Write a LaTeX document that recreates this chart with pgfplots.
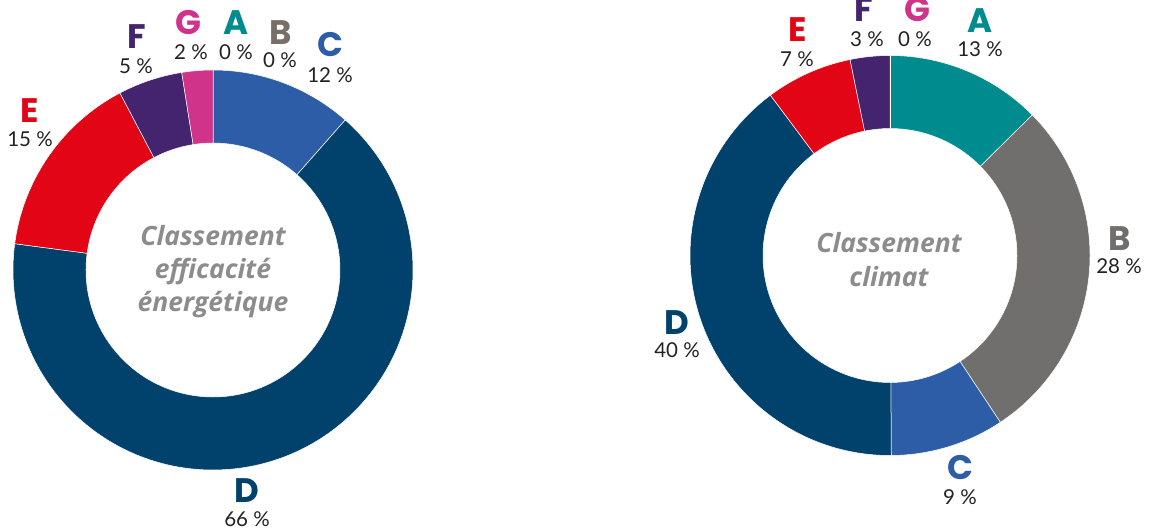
\documentclass[border=0pt]{standalone}
\usepackage{pgfplots}
\pgfplotsset{compat=1.18}
\usepackage{fontspec}
\setmainfont{Lato}
\newfontfamily\letterfont{Poppins}
\newfontfamily\centerfont{Open Sans}
\definecolor{colA}{HTML}{008C8F}
\definecolor{colB}{HTML}{706F6E}
\definecolor{colBl}{HTML}{7A6E69}
\definecolor{colC}{HTML}{2D5DA7}
\definecolor{colD}{HTML}{00426B}
\definecolor{colE}{HTML}{E10516}
\definecolor{colF}{HTML}{44236F}
\definecolor{colG}{HTML}{D0338A}
\definecolor{txt}{HTML}{222222}
\definecolor{ctr}{HTML}{8C8C8C}
% segment values (percent), clockwise from 12 o'clock: A,B,C,D,E,F,G
\def\leftdata{0/colA,0/colB,11.5/colC,65.6/colD,15.2/colE,5.2/colF,2.5/colG}
\def\rightdata{12.6/colA,28.1/colB,9.2/colC,39.9/colD,7.0/colE,3.2/colF,0/colG}
\newcommand\donut[3]{%
  \xdef\cum{0}%
  \foreach \v/\c in #3 {%
    \pgfmathsetmacro\aa{90-3.6*\cum}%
    \pgfmathsetmacro\bb{90-3.6*(\cum+\v)}%
    \fill[\c, draw=white, line width=0.5pt]
      ([shift={(\aa:200pt)}]axis cs:#1,#2) arc[start angle=\aa, end angle=\bb, radius=200pt]
      -- ([shift={(\bb:127pt)}]axis cs:#1,#2) arc[start angle=\bb, end angle=\aa, radius=127pt] -- cycle;
    \pgfmathsetmacro\nc{\cum+\v}%
    \xdef\cum{\nc}%
  }%
}
\tikzset{
  lab/.style={anchor=base, inner sep=0pt, font=\letterfont\bfseries\fontsize{34}{34}\selectfont},
  pct/.style={anchor=base, inner sep=0pt, text=txt, font=\fontsize{20.5}{20}\selectfont},
  cen/.style={anchor=base, inner sep=0pt, text=ctr, font=\centerfont\bfseries\itshape\fontsize{26.5}{26}\selectfont},
}
\begin{document}
\begin{tikzpicture}
\begin{axis}[scale only axis, width=1150pt, height=532pt,
  xmin=0, xmax=1150, ymin=0, ymax=532, hide axis, clip=false]
\addplot[draw=none] coordinates {(0,0) (1150,532)};
\pgfplotsextra{\donut{213}{262}{\leftdata}\donut{890}{276.5}{\rightdata}}
% left labels
\node[lab, text=colF] at (axis cs:137,483) {F};
\node[pct] at (axis cs:136,458) {5 \%};
\node[lab, text=colG] at (axis cs:188,497) {G};
\node[pct] at (axis cs:191,472) {2 \%};
\node[lab, text=colA] at (axis cs:236,497) {A};
\node[pct] at (axis cs:236,472) {0 \%};
\node[lab, text=colBl] at (axis cs:281,487) {B};
\node[pct] at (axis cs:280,464) {0 \%};
\node[lab, text=colC] at (axis cs:330,475) {C};
\node[pct] at (axis cs:330,449) {12 \%};
\node[lab, text=colE] at (axis cs:30,409) {E};
\node[pct] at (axis cs:30,385) {15 \%};
\node[lab, text=colD] at (axis cs:247,29) {D};
\node[pct] at (axis cs:247,5) {66 \%};
\node[cen] at (axis cs:213,286) {Classement};
\node[cen] at (axis cs:213,253) {efficacité};
\node[cen] at (axis cs:213,220) {énergétique};
% right labels
\node[lab, text=colE] at (axis cs:798,490) {E};
\node[pct] at (axis cs:797,465) {7 \%};
\node[lab, text=colF] at (axis cs:864,510) {F};
\node[pct] at (axis cs:867,485) {3 \%};
\node[lab, text=colG] at (axis cs:917,510) {G};
\node[pct] at (axis cs:915,485) {0 \%};
\node[lab, text=colA] at (axis cs:980,499) {A};
\node[pct] at (axis cs:980,475) {13 \%};
\node[lab, text=colB] at (axis cs:1120,281) {B};
\node[pct] at (axis cs:1119,258) {28 \%};
\node[lab, text=colD] at (axis cs:677,197) {D};
\node[pct] at (axis cs:677,174) {40 \%};
\node[lab, text=colC] at (axis cs:960,52) {C};
\node[pct] at (axis cs:960,27) {9 \%};
\node[cen] at (axis cs:889,279) {Classement};
\node[cen] at (axis cs:889,245) {climat};
\end{axis}
\pgfresetboundingbox
\useasboundingbox (current axis.south west) rectangle (current axis.north east);
\end{tikzpicture}
\end{document}
